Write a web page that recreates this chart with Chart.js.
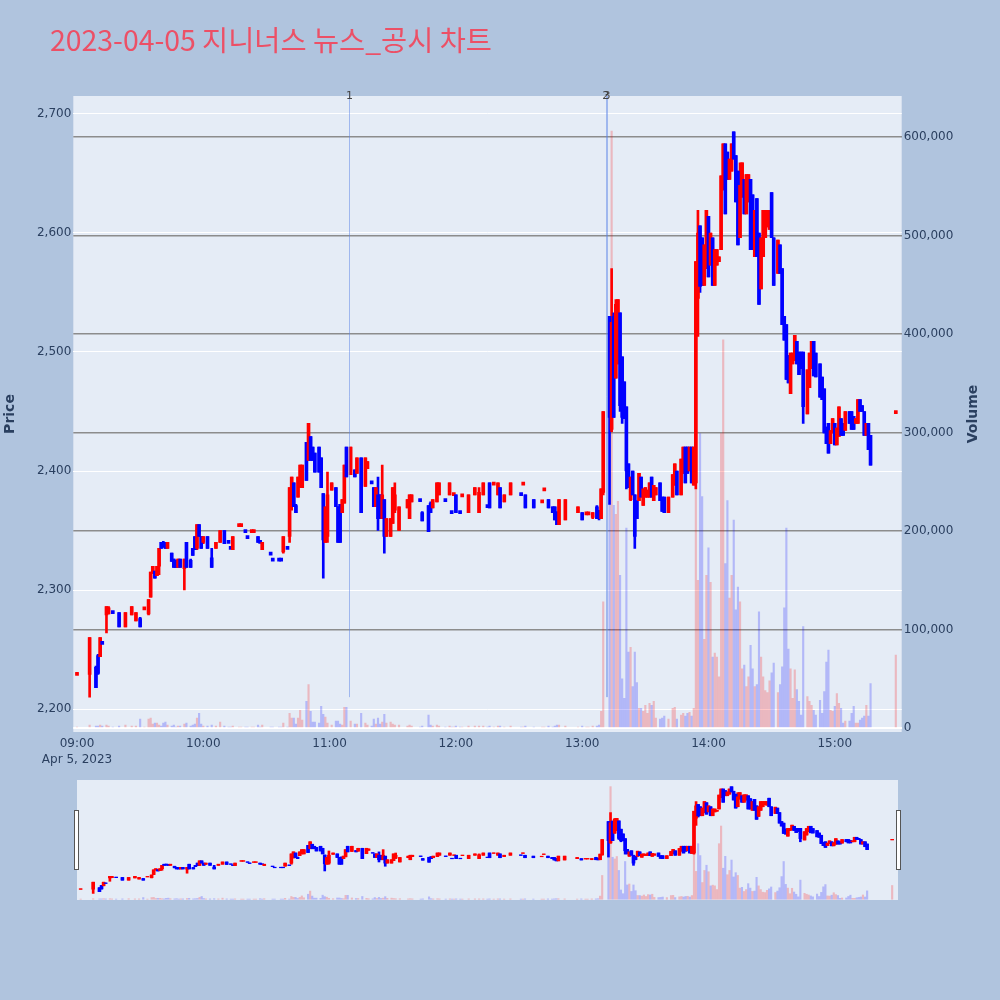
<!DOCTYPE html>
<html>
<head>
<meta charset="utf-8">
<script src="https://cdn.jsdelivr.net/npm/chart.js@4.4.1/dist/chart.umd.min.js"></script>
<style>
    html, body { margin: 0; padding: 0; background: #b0c4de; }
    #wrap { position: relative; width: 1000px; height: 1000px; overflow: hidden; }
    #main { position: absolute; left: 0; top: 0; }
    #title {
        position: absolute; left: 50px; top: 24px; white-space: nowrap;
        font-family: 'Noto Sans CJK KR', 'DejaVu Sans', sans-serif;
        font-size: 28.4px; line-height: 30px; color: #ec5066;
    }
    #slider { position: absolute; left: 77px; top: 780px; background: #e5ecf6; }
    .handle {
        position: absolute; top: 810px; width: 3px; height: 58px;
        background: #fff; border: 1px solid #555;
    }
</style>
</head>
<body>
<div id="wrap">
    <canvas id="main" width="1000" height="770"></canvas>
    <div id="title">2023-04-05 지니너스 뉴스_공시 차트</div>
    <canvas id="slider" width="821" height="120"></canvas>
    <div class="handle" style="left:74px"></div>
    <div class="handle" style="left:896px"></div>
</div>
<script>
// minutes after 09:00 for each 1-minute candle
const times = [
    0, 6, 9, 10, 11, 12, 14, 15, 17, 20,
    23, 26, 28, 30, 32, 34, 35, 36, 37, 38,
    39, 40, 41, 42, 43, 45, 46, 47, 48, 49,
    51, 52, 54, 55, 56, 57, 58, 59, 60, 62,
    64, 66, 68, 70, 72, 73, 74, 77, 78, 80,
    81, 83, 84, 86, 87, 88, 92, 93, 96, 97,
    98, 100, 101, 102, 103, 104, 105, 106, 107, 109,
    110, 111, 112, 113, 115, 116, 117, 118, 119, 121,
    123, 124, 125, 126, 127, 128, 130, 132, 133, 135,
    137, 138, 140, 141, 142, 143, 144, 145, 146, 147,
    149, 150, 151, 153, 157, 158, 159, 163, 164, 167,
    168, 169, 171, 172, 175, 177, 178, 179, 180, 182,
    183, 186, 189, 191, 193, 195, 196, 198, 200, 201,
    203, 206, 211, 212, 213, 217, 221, 222, 224, 226,
    227, 228, 229, 232, 238, 240, 242, 243, 245, 247,
    248, 249, 250, 253, 254, 255, 256, 257, 258, 259,
    260, 261, 262, 263, 264, 265, 266, 267, 268, 269,
    270, 271, 272, 273, 274, 275, 277, 278, 279, 281,
    283, 284, 285, 287, 288, 289, 290, 291, 292, 293,
    294, 295, 296, 297, 298, 299, 300, 301, 302, 303,
    304, 305, 306, 307, 308, 309, 310, 311, 312, 313,
    314, 315, 316, 317, 318, 319, 320, 321, 322, 323,
    324, 325, 326, 327, 328, 329, 330, 331, 333, 334,
    335, 336, 337, 338, 339, 340, 341, 342, 343, 344,
    345, 347, 348, 349, 350, 351, 353, 354, 355, 356,
    357, 358, 359, 360, 361, 362, 363, 364, 365, 367,
    368, 369, 370, 371, 372, 373, 374, 375, 376, 377, 389
];
const opens = [
    2229, 2229, 2235, 2245, 2244, 2256, 2279, 2280, 2282, 2281,
    2269, 2279, 2274, 2276, 2284, 2280, 2294, 2314, 2316, 2312,
    2320, 2340, 2340, 2339, 2335, 2331, 2326, 2325, 2319, 2326,
    2318, 2340, 2325, 2335, 2345, 2335, 2355, 2345, 2340, 2345,
    2327, 2335, 2340, 2350, 2341, 2336, 2334, 2354, 2354, 2350,
    2345, 2349, 2349, 2345, 2341, 2334, 2331, 2326, 2326, 2326,
    2332, 2336, 2345, 2370, 2390, 2371, 2378, 2386, 2386, 2424,
    2409, 2429, 2420, 2415, 2420, 2411, 2381, 2340, 2345, 2384,
    2386, 2370, 2372, 2365, 2373, 2420, 2397, 2401, 2398, 2411,
    2387, 2402, 2391, 2386, 2370, 2380, 2380, 2360, 2376, 2345,
    2345, 2356, 2367, 2350, 2369, 2360, 2374, 2376, 2365, 2371,
    2373, 2369, 2374, 2380, 2376, 2380, 2366, 2380, 2380, 2366,
    2379, 2365, 2380, 2365, 2380, 2371, 2390, 2389, 2380, 2386,
    2374, 2380, 2381, 2389, 2380, 2376, 2374, 2384, 2376, 2370,
    2370, 2365, 2355, 2359, 2365, 2365, 2364, 2364, 2361, 2370,
    2366, 2360, 2382, 2530, 2435, 2530, 2478, 2490, 2533, 2496,
    2475, 2454, 2406, 2376, 2400, 2380, 2375, 2375, 2395, 2371,
    2378, 2378, 2378, 2395, 2375, 2380, 2390, 2378, 2378, 2365,
    2378, 2388, 2400, 2380, 2398, 2420, 2420, 2400, 2420, 2388,
    2390, 2545, 2606, 2596, 2556, 2570, 2614, 2573, 2596, 2556,
    2573, 2576, 2586, 2640, 2675, 2668, 2645, 2652, 2685, 2665,
    2652, 2596, 2630, 2645, 2616, 2626, 2645, 2632, 2580, 2629,
    2600, 2553, 2580, 2596, 2605, 2603, 2634, 2596, 2566, 2590,
    2570, 2530, 2523, 2497, 2465, 2490, 2493, 2509, 2500, 2500,
    2500, 2448, 2470, 2486, 2509, 2499, 2490, 2479, 2469, 2437,
    2440, 2423, 2432, 2440, 2422, 2429, 2444, 2440, 2434, 2450,
    2450, 2446, 2440, 2440, 2460, 2455, 2450, 2430, 2440, 2430, 2449
];
const highs = [
    2230, 2260, 2236, 2246, 2260, 2256, 2286, 2286, 2282, 2281,
    2281, 2286, 2281, 2277, 2285, 2292, 2315, 2320, 2316, 2320,
    2335, 2340, 2341, 2340, 2340, 2331, 2326, 2325, 2326, 2326,
    2326, 2340, 2326, 2335, 2345, 2355, 2355, 2345, 2345, 2345,
    2335, 2340, 2350, 2350, 2341, 2336, 2345, 2355, 2355, 2350,
    2345, 2350, 2350, 2345, 2341, 2340, 2331, 2326, 2326, 2326,
    2345, 2336, 2386, 2395, 2390, 2372, 2395, 2405, 2405, 2424,
    2440, 2429, 2420, 2415, 2420, 2411, 2381, 2370, 2399, 2390,
    2386, 2370, 2372, 2376, 2405, 2420, 2420, 2401, 2411, 2411,
    2411, 2408, 2391, 2386, 2386, 2395, 2380, 2405, 2376, 2360,
    2360, 2386, 2390, 2370, 2376, 2380, 2380, 2376, 2366, 2371,
    2374, 2376, 2390, 2390, 2376, 2390, 2366, 2381, 2380, 2366,
    2380, 2380, 2386, 2386, 2390, 2371, 2390, 2390, 2390, 2386,
    2380, 2390, 2381, 2390, 2380, 2376, 2375, 2385, 2376, 2370,
    2370, 2366, 2376, 2376, 2370, 2365, 2365, 2365, 2365, 2371,
    2367, 2385, 2450, 2530, 2570, 2533, 2544, 2544, 2533, 2496,
    2475, 2454, 2406, 2395, 2400, 2380, 2375, 2398, 2395, 2385,
    2386, 2384, 2390, 2395, 2388, 2386, 2390, 2378, 2378, 2378,
    2397, 2406, 2400, 2410, 2420, 2420, 2420, 2420, 2420, 2420,
    2576, 2619, 2606, 2596, 2590, 2619, 2614, 2600, 2596, 2586,
    2586, 2580, 2648, 2675, 2675, 2668, 2662, 2675, 2685, 2665,
    2652, 2659, 2659, 2645, 2649, 2649, 2645, 2632, 2619, 2629,
    2600, 2596, 2619, 2619, 2619, 2619, 2634, 2596, 2594, 2590,
    2570, 2530, 2523, 2497, 2499, 2499, 2514, 2509, 2500, 2500,
    2500, 2485, 2499, 2509, 2509, 2499, 2490, 2479, 2469, 2437,
    2440, 2434, 2444, 2440, 2436, 2454, 2444, 2440, 2450, 2450,
    2450, 2446, 2444, 2460, 2460, 2455, 2450, 2440, 2440, 2430, 2450
];
const lows = [
    2229, 2210, 2218, 2229, 2244, 2255, 2264, 2280, 2281, 2269,
    2269, 2279, 2274, 2269, 2284, 2279, 2294, 2314, 2310, 2312,
    2313, 2335, 2336, 2335, 2335, 2324, 2319, 2319, 2319, 2319,
    2300, 2319, 2319, 2329, 2334, 2334, 2345, 2335, 2339, 2335,
    2319, 2335, 2340, 2339, 2340, 2335, 2334, 2354, 2354, 2349,
    2344, 2349, 2349, 2340, 2340, 2334, 2330, 2325, 2325, 2325,
    2331, 2335, 2340, 2367, 2370, 2365, 2378, 2386, 2386, 2392,
    2409, 2409, 2409, 2399, 2399, 2386, 2310, 2340, 2340, 2384,
    2370, 2340, 2340, 2365, 2373, 2395, 2397, 2395, 2398, 2365,
    2387, 2402, 2390, 2370, 2370, 2350, 2360, 2360, 2331, 2345,
    2345, 2356, 2365, 2350, 2369, 2360, 2374, 2375, 2358, 2349,
    2365, 2369, 2374, 2380, 2375, 2380, 2365, 2380, 2365, 2365,
    2379, 2365, 2380, 2365, 2380, 2370, 2369, 2389, 2380, 2369,
    2374, 2380, 2380, 2389, 2369, 2369, 2374, 2384, 2369, 2365,
    2359, 2355, 2355, 2359, 2365, 2359, 2364, 2364, 2360, 2360,
    2359, 2360, 2380, 2372, 2433, 2445, 2478, 2490, 2450, 2440,
    2444, 2385, 2386, 2375, 2380, 2335, 2360, 2375, 2378, 2371,
    2378, 2378, 2378, 2378, 2375, 2380, 2375, 2366, 2365, 2365,
    2378, 2388, 2380, 2380, 2398, 2390, 2398, 2400, 2390, 2388,
    2385, 2513, 2550, 2556, 2556, 2570, 2563, 2573, 2556, 2556,
    2573, 2576, 2586, 2636, 2616, 2645, 2645, 2652, 2662, 2626,
    2590, 2596, 2630, 2616, 2616, 2626, 2586, 2586, 2580, 2580,
    2540, 2553, 2580, 2596, 2605, 2603, 2596, 2556, 2566, 2566,
    2523, 2510, 2477, 2474, 2465, 2490, 2493, 2490, 2481, 2486,
    2440, 2448, 2470, 2486, 2480, 2479, 2462, 2460, 2432, 2423,
    2415, 2423, 2432, 2422, 2422, 2429, 2430, 2430, 2434, 2440,
    2435, 2435, 2440, 2440, 2450, 2450, 2430, 2430, 2418, 2405, 2449
];
const closes = [
    2230, 2260, 2218, 2230, 2260, 2255, 2286, 2285, 2281, 2269,
    2281, 2286, 2281, 2269, 2285, 2292, 2315, 2320, 2310, 2320,
    2335, 2335, 2336, 2335, 2340, 2324, 2319, 2319, 2326, 2319,
    2326, 2319, 2319, 2329, 2334, 2355, 2345, 2335, 2345, 2335,
    2319, 2340, 2350, 2339, 2340, 2335, 2345, 2355, 2355, 2349,
    2344, 2350, 2350, 2340, 2340, 2340, 2330, 2325, 2325, 2325,
    2345, 2335, 2386, 2395, 2370, 2365, 2395, 2405, 2405, 2392,
    2440, 2409, 2409, 2399, 2399, 2386, 2342, 2370, 2380, 2390,
    2370, 2340, 2340, 2376, 2405, 2395, 2420, 2395, 2411, 2365,
    2411, 2408, 2390, 2370, 2386, 2360, 2360, 2380, 2345, 2360,
    2360, 2386, 2380, 2370, 2376, 2380, 2380, 2375, 2358, 2349,
    2365, 2376, 2390, 2390, 2375, 2390, 2365, 2381, 2365, 2365,
    2380, 2380, 2386, 2382, 2390, 2370, 2369, 2390, 2390, 2369,
    2380, 2390, 2380, 2390, 2369, 2369, 2375, 2385, 2369, 2365,
    2359, 2355, 2376, 2376, 2370, 2359, 2365, 2365, 2365, 2360,
    2360, 2385, 2450, 2445, 2525, 2445, 2540, 2544, 2455, 2445,
    2448, 2400, 2386, 2395, 2380, 2345, 2360, 2398, 2378, 2385,
    2386, 2384, 2390, 2378, 2388, 2386, 2375, 2366, 2365, 2378,
    2397, 2406, 2380, 2410, 2420, 2390, 2398, 2420, 2390, 2420,
    2576, 2600, 2555, 2556, 2590, 2619, 2563, 2600, 2556, 2586,
    2586, 2580, 2648, 2675, 2616, 2645, 2662, 2675, 2662, 2626,
    2590, 2640, 2659, 2616, 2649, 2649, 2586, 2586, 2619, 2580,
    2540, 2596, 2619, 2619, 2619, 2619, 2596, 2556, 2594, 2566,
    2523, 2510, 2477, 2474, 2499, 2499, 2514, 2490, 2481, 2486,
    2454, 2485, 2499, 2509, 2480, 2479, 2462, 2460, 2432, 2423,
    2415, 2434, 2444, 2422, 2436, 2454, 2430, 2430, 2450, 2440,
    2435, 2435, 2444, 2460, 2450, 2450, 2430, 2440, 2418, 2405, 2450
];
// traded volume per candle, in thousands of shares
const volumeK = [
    1, 3, 2, 2, 3, 2, 3, 2, 1, 2,
    3, 2, 2, 9, 1, 9, 10, 4, 5, 5,
    3, 2, 5, 6, 3, 2, 3, 1, 2, 2,
    4, 5, 2, 3, 4, 10, 15, 4, 2, 2,
    3, 2, 6, 2, 1, 1, 2, 1, 1, 1,
    1, 1, 1, 3, 1, 3, 1, 1, 1, 1,
    5, 1, 15, 10, 10, 4, 10, 18, 8, 27,
    44, 17, 6, 6, 5, 22, 14, 11, 5, 3,
    7, 7, 4, 3, 21, 21, 7, 4, 4, 15,
    5, 3, 2, 9, 4, 10, 4, 6, 14, 5,
    6, 4, 3, 3, 2, 3, 2, 1, 2, 13,
    3, 2, 3, 2, 1, 2, 1, 1, 2, 1,
    1, 2, 2, 2, 2, 1, 2, 1, 2, 2,
    1, 2, 1, 1, 2, 1, 1, 1, 2, 1,
    2, 3, 3, 2, 1, 2, 1, 1, 2, 2,
    3, 17, 128, 228, 606, 226, 217, 230, 155, 50,
    30, 203, 77, 82, 42, 77, 46, 20, 20, 17,
    23, 15, 25, 23, 27, 10, 9, 10, 12, 9,
    20, 21, 9, 13, 15, 12, 15, 16, 12, 20,
    418, 150, 299, 235, 90, 155, 183, 148, 72, 76,
    72, 52, 299, 394, 167, 231, 132, 155, 211, 120,
    143, 128, 60, 64, 42, 52, 84, 60, 42, 44,
    118, 72, 52, 38, 36, 48, 56, 66, 36, 44,
    62, 122, 203, 80, 60, 30, 59, 39, 27, 13,
    103, 32, 27, 23, 18, 13, 28, 15, 37, 67,
    79, 18, 17, 22, 35, 25, 20, 5, 7, 7,
    15, 22, 5, 5, 8, 10, 12, 23, 12, 45, 74
];

const hourTicks = [0, 60, 120, 180, 240, 300, 360];
const hourLabels = ['09:00', '10:00', '11:00', '12:00', '13:00', '14:00', '15:00'];
const dateLabel = 'Apr 5, 2023';
const priceTicks = [2200, 2300, 2400, 2500, 2600, 2700];
const volumeTicks = [0, 100000, 200000, 300000, 400000, 500000, 600000];

// news / disclosure markers (minutes after 09:00)
const eventTimes = [129.4, 251.2, 251.8];
const eventLabels = ['1', '2', '3'];

const X_RANGE = [-1.76, 391.8];
const PRICE_RANGE = [2180.7, 2715.1];
const VOLUME_RANGE = [-4060, 641600];

const UP = '#ff0000';
const DOWN = '#0000ff';
const TICK = '#2a3f5f';

Chart.defaults.font.family = "'DejaVu Sans', sans-serif";

function bodyRange(o, c) {
    const lo = Math.min(o, c), hi = Math.max(o, c);
    // keep flat candles visible as a short dash
    return hi - lo < 1.6 ? [lo - 0.8, hi + 0.8] : [lo, hi];
}

function buildDatasets(bodyW, wickW, volW) {
    const isUp = closes.map((c, i) => c > opens[i]);
    return [
        {
            label: 'Volume', yAxisID: 'yv', order: 3, grouped: false, barThickness: volW,
            data: times.map((t, i) => ({ x: t, y: volumeK[i] * 1000 })),
            backgroundColor: isUp.map(u => u ? 'rgba(255,0,0,0.22)' : 'rgba(0,0,255,0.22)')
        },
        {
            label: 'Wick', yAxisID: 'y', order: 2, grouped: false, barThickness: wickW,
            data: times.map((t, i) => ({ x: t, y: [lows[i], highs[i]] })),
            backgroundColor: isUp.map(u => u ? UP : DOWN)
        },
        {
            label: 'Body', yAxisID: 'y', order: 1, grouped: false, barThickness: bodyW,
            data: times.map((t, i) => ({ x: t, y: bodyRange(opens[i], closes[i]) })),
            backgroundColor: isUp.map(u => u ? UP : DOWN)
        }
    ];
}

const plotBg = {
    id: 'plotBg',
    beforeDraw(chart) {
        const { ctx, chartArea: a } = chart;
        ctx.save();
        ctx.fillStyle = '#e5ecf6';
        ctx.fillRect(a.left, a.top, a.right - a.left, a.bottom - a.top);
        ctx.restore();
    }
};

const decorations = {
    id: 'decorations',
    afterDatasetsDraw(chart) {
        const { ctx, chartArea: a, scales } = chart;
        const yLow = scales.y.getPixelForValue(Math.min(...lows));
        ctx.save();
        ctx.strokeStyle = 'rgba(90,130,230,0.5)';
        ctx.lineWidth = 1;
        eventTimes.forEach(t => {
            const x = Math.round(scales.x.getPixelForValue(t)) + 0.5;
            ctx.beginPath();
            ctx.moveTo(x, a.top);
            ctx.lineTo(x, yLow);
            ctx.stroke();
        });
        ctx.restore();
    },
    afterDraw(chart) {
        const { ctx, chartArea: a, scales } = chart;
        ctx.save();
        ctx.fillStyle = '#444';
        ctx.font = "11px 'DejaVu Sans'";
        ctx.textAlign = 'center';
        ctx.textBaseline = 'middle';
        eventTimes.forEach((t, i) => {
            ctx.fillText(eventLabels[i], scales.x.getPixelForValue(t), a.top);
        });

        const midY = (a.top + a.bottom) / 2;
        ctx.fillStyle = TICK;
        ctx.font = "bold 14px 'DejaVu Sans'";
        ctx.translate(10, midY);
        ctx.rotate(-Math.PI / 2);
        ctx.fillText('Price', 0, 0);
        ctx.rotate(Math.PI / 2);
        ctx.translate(963, 0);
        ctx.rotate(-Math.PI / 2);
        ctx.fillText('Volume', 0, 0);
        ctx.restore();
    }
};

new Chart(document.getElementById('main'), {
    type: 'bar',
    data: { datasets: buildDatasets(3, 2, 1.5) },
    options: {
        responsive: false,
        animation: false,
        devicePixelRatio: 1,
        layout: { padding: { top: 96, left: 0, right: 0, bottom: 0 } },
        plugins: { legend: { display: false }, tooltip: { enabled: false } },
        scales: {
            x: {
                type: 'linear', min: X_RANGE[0], max: X_RANGE[1], offset: false,
                grid: { display: false, drawTicks: false },
                border: { display: false },
                afterBuildTicks: s => { s.ticks = hourTicks.map(v => ({ value: v })); },
                afterFit: s => { s.height = 38; },
                ticks: {
                    autoSkip: false, maxRotation: 0, padding: 4, color: TICK,
                    font: { size: 12, lineHeight: 1.35 },
                    callback: v => {
                        const i = hourTicks.indexOf(v);
                        return i === 0 ? [hourLabels[0], dateLabel] : hourLabels[i];
                    }
                }
            },
            y: {
                position: 'left', min: PRICE_RANGE[0], max: PRICE_RANGE[1],
                grid: { color: '#ffffff', lineWidth: 1, drawTicks: false },
                border: { display: false },
                afterBuildTicks: s => { s.ticks = priceTicks.map(v => ({ value: v })); },
                afterFit: s => { s.width = 73.3; },
                ticks: { padding: 2, color: TICK, font: { size: 12 }, callback: v => v.toLocaleString('en-US') }
            },
            yv: {
                position: 'right', min: VOLUME_RANGE[0], max: VOLUME_RANGE[1],
                grid: {
                    color: c => c.tick && c.tick.value === 0 ? '#ffffff' : '#8c8c8c',
                    lineWidth: c => c.tick && c.tick.value === 0 ? 2 : 1.5,
                    drawTicks: false
                },
                border: { display: false },
                afterBuildTicks: s => { s.ticks = volumeTicks.map(v => ({ value: v })); },
                afterFit: s => { s.width = 98.3; },
                ticks: { padding: 2, color: TICK, font: { size: 12 }, callback: v => v.toLocaleString('en-US') }
            }
        }
    },
    plugins: [plotBg, decorations]
});

// range slider preview underneath
new Chart(document.getElementById('slider'), {
    type: 'bar',
    data: { datasets: buildDatasets(3, 2, 1.5) },
    options: {
        responsive: false,
        animation: false,
        devicePixelRatio: 1,
        layout: { padding: 0 },
        plugins: { legend: { display: false }, tooltip: { enabled: false } },
        scales: {
            x: { type: 'linear', display: false, min: X_RANGE[0], max: X_RANGE[1], offset: false },
            y: { display: false, min: PRICE_RANGE[0], max: PRICE_RANGE[1] },
            yv: { display: false, position: 'right', min: VOLUME_RANGE[0], max: VOLUME_RANGE[1] }
        }
    }
});
</script>
</body>
</html>
